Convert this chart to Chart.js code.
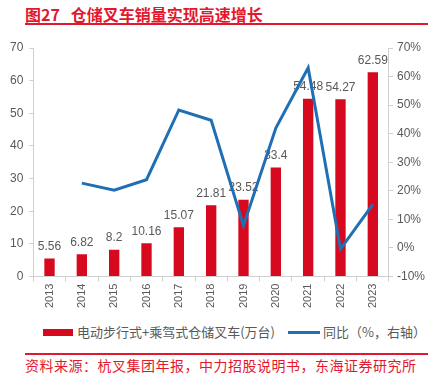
<!DOCTYPE html>
<html>
<head>
<meta charset="utf-8">
<script src="https://cdn.jsdelivr.net/npm/chart.js@4"></script>
<style>
    body { margin: 0; background: #fff; font-family: "Noto Sans CJK SC", "Liberation Sans", sans-serif; }
    #wrap { position: relative; width: 433px; height: 376px; overflow: hidden; }
    .title { position: absolute; left: 25px; top: 2px; font-size: 16px; font-weight: bold; color: #e3172d; white-space: nowrap; }
    .rule { position: absolute; left: 25px; width: 403px; background: #e3172d; }
    .legend { position: absolute; top: 322px; font-size: 13px; color: #595959; white-space: nowrap; }
    .swatch { position: absolute; }
    .source { position: absolute; left: 25px; top: 355px; font-size: 14px; letter-spacing: 0.5px; color: #e3172d; white-space: nowrap; }
    canvas { position: absolute; left: 0; top: 30px; }
</style>
</head>
<body>
<div id="wrap">
    <div class="title">图27&nbsp;&nbsp;&nbsp;仓储叉车销量实现高速增长</div>
    <div class="rule" style="top:23px;height:2px;"></div>
    <canvas id="forkliftChart" width="433" height="280"></canvas>
    <div class="swatch" style="left:43px;top:329px;width:30px;height:7px;background:#d7091e;"></div>
    <div class="legend" style="left:77px;">电动步行式+乘驾式仓储叉车(万台)</div>
    <div class="swatch" style="left:288px;top:331px;width:32px;height:3px;background:#1f6fb5;"></div>
    <div class="legend" style="left:323px;">同比（%，右轴）</div>
    <div class="rule" style="top:353px;height:1.5px;"></div>
    <div class="source">资料来源：杭叉集团年报，中力招股说明书，东海证券研究所</div>
</div>
<script>
const years = ['2013', '2014', '2015', '2016', '2017', '2018', '2019', '2020', '2021', '2022', '2023'];
const sales = [5.56, 6.82, 8.2, 10.16, 15.07, 21.81, 23.52, 33.4, 54.48, 54.27, 62.59];
const growth = [null, 22.7, 20.2, 23.9, 48.3, 44.7, 7.8, 42.0, 63.1, -0.4, 15.3];

// value labels above the bars, drawn right after the bars so the line sits on top
const barLabels = {
    id: 'barLabels',
    afterDatasetDraw(chart, args) {
        if (args.index !== 1) return;
        const ctx = chart.ctx;
        ctx.save();
        ctx.font = '12px "Liberation Sans", Arial, sans-serif';
        ctx.fillStyle = '#595959';
        ctx.textAlign = 'center';
        ctx.textBaseline = 'bottom';
        args.meta.data.forEach((bar, i) => {
            ctx.fillText(String(sales[i]), bar.x, bar.y - 6);
        });
        ctx.restore();
    }
};

const ctx = document.getElementById('forkliftChart').getContext('2d');
new Chart(ctx, {
    data: {
        labels: years,
        datasets: [
            {
                type: 'line',
                label: '同比（%，右轴）',
                data: growth,
                yAxisID: 'y1',
                borderColor: '#1f6fb5',
                backgroundColor: '#1f6fb5',
                borderWidth: 3,
                pointRadius: 0,
                tension: 0,
                order: 0
            },
            {
                type: 'bar',
                label: '电动步行式+乘驾式仓储叉车(万台)',
                data: sales,
                yAxisID: 'y',
                backgroundColor: '#d7091e',
                barPercentage: 0.32,
                categoryPercentage: 1,
                order: 1
            }
        ]
    },
    options: {
        responsive: false,
        animation: false,
        layout: { padding: { top: 18, left: 4, right: 4, bottom: 0 } },
        plugins: {
            legend: { display: false },
            tooltip: { enabled: false }
        },
        scales: {
            x: {
                offset: true,
                grid: { display: true, drawOnChartArea: false, offset: true, color: '#d0d0d0', tickLength: 5 },
                border: { color: '#d0d0d0' },
                ticks: {
                    color: '#595959',
                    font: { size: 11, family: '"Liberation Sans", Arial, sans-serif' },
                    maxRotation: 90,
                    minRotation: 90,
                    padding: 2
                }
            },
            y: {
                position: 'left',
                min: 0,
                max: 70,
                ticks: {
                    stepSize: 10,
                    color: '#595959',
                    font: { size: 12, family: '"Liberation Sans", Arial, sans-serif' },
                    padding: 6
                },
                grid: { drawOnChartArea: false, color: '#d0d0d0', tickLength: 4 },
                border: { color: '#d0d0d0' }
            },
            y1: {
                position: 'right',
                min: -10,
                max: 70,
                ticks: {
                    stepSize: 10,
                    color: '#595959',
                    font: { size: 12, family: '"Liberation Sans", Arial, sans-serif' },
                    padding: 4,
                    callback: v => v + '%'
                },
                grid: { drawOnChartArea: false, color: '#d0d0d0', tickLength: 4 },
                border: { color: '#d0d0d0' }
            }
        }
    },
    plugins: [barLabels]
});
</script>
</body>
</html>
